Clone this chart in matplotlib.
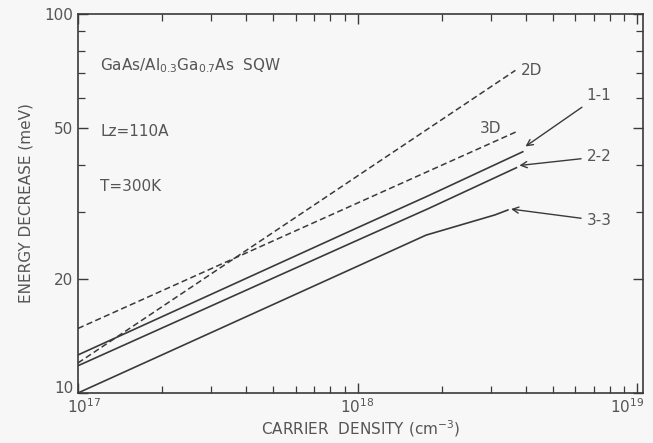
import numpy as np
import matplotlib
matplotlib.use("Agg")
from matplotlib import pyplot as plt
from matplotlib import transforms
from matplotlib.ticker import LogLocator, NullFormatter, FixedLocator, FixedFormatter

# carrier density (cm^-3) and energy decrease (meV) for each curve
n_2d = [1.0e17, 3.67e18]
e_2d = [12.0, 71.0]
n_3d = [1.0e17, 3.7e18]
e_3d = [14.8, 48.9]
n_11 = [1.0e17, 1.0e18, 1.8e18, 3.9e18]
e_11 = [12.6, 27.3, 33.2, 43.3]
n_22 = [1.0e17, 1.0e18, 1.8e18, 3.7e18]
e_22 = [11.8, 25.3, 30.7, 39.3]
n_33 = [1.0e17, 1.0e18, 1.76e18, 3.1e18, 3.45e18]
e_33 = [10.0, 21.6, 26.1, 29.5, 30.4]

ink = "#3a3a3a"
txt = "#555555"
plt.rcParams["font.family"] = ["DejaVu Sans"]
plt.rcParams["mathtext.fontset"] = "dejavusans"

fig = plt.figure(figsize=(6.53, 4.43), dpi=100, facecolor="#f7f7f7")
ax = fig.add_axes([0.1194, 0.1129, 0.8653, 0.8555])
ax.set_facecolor("#f7f7f7")

ax.plot(n_2d, e_2d, color=ink, lw=1.1, ls=(0, (4, 2.2)))
ax.plot(n_3d, e_3d, color=ink, lw=1.1, ls=(0, (4, 2.2)))
ax.plot(n_11, e_11, color=ink, lw=1.2)
ax.plot(n_22, e_22, color=ink, lw=1.2)
ax.plot(n_33, e_33, color=ink, lw=1.2)

ax.set_xscale("log")
ax.set_yscale("log")
ax.set_xlim(1e17, 1.05e19)
ax.set_ylim(10, 100)

ax.xaxis.set_major_locator(FixedLocator([1e17, 1e18, 1e19]))
ax.xaxis.set_major_formatter(FixedFormatter([r"$10^{17}$", r"$10^{18}$", r"$10^{19}$"]))
ax.xaxis.set_minor_locator(LogLocator(base=10, subs=np.arange(2, 10)))
ax.xaxis.set_minor_formatter(NullFormatter())
ax.yaxis.set_major_locator(FixedLocator([10, 20, 50, 100]))
ax.yaxis.set_major_formatter(FixedFormatter(["10", "20", "50", "100"]))
ax.yaxis.set_minor_locator(FixedLocator([30, 40, 60, 70, 80, 90]))
ax.yaxis.set_minor_formatter(NullFormatter())

ax.tick_params(which="both", direction="in", top=True, right=True, color=ink,
               labelcolor=txt, labelsize=11)
ax.tick_params(which="major", length=7, width=1)
ax.tick_params(which="minor", length=5, width=0.9)
ax.tick_params(axis="x", pad=3)
for s in ax.spines.values():
    s.set_color(ink)
    s.set_linewidth(1.2)

# nudge the corner labels so they don't collide
fig.canvas.draw()
xl = ax.get_xticklabels()
yl = ax.get_yticklabels()
xl[0].set_transform(xl[0].get_transform() + transforms.ScaledTranslation(0.06, 0, fig.dpi_scale_trans))
xl[-1].set_transform(xl[-1].get_transform() + transforms.ScaledTranslation(-0.1, 0, fig.dpi_scale_trans))
yl[0].set_transform(yl[0].get_transform() + transforms.ScaledTranslation(0, 0.06, fig.dpi_scale_trans))

ax.set_xlabel(r"CARRIER  DENSITY (cm$^{-3}$)", fontsize=11, color=txt, labelpad=2)
ax.set_ylabel("ENERGY DECREASE (meV)", fontsize=11, color=txt, labelpad=8)

ax.text(1.2e17, 73, r"GaAs/Al$_{0.3}$Ga$_{0.7}$As  SQW", fontsize=11, color=txt, va="center")
ax.text(1.2e17, 49, "Lz=110A", fontsize=11, color=txt, va="center")
ax.text(1.2e17, 35, "T=300K", fontsize=11, color=txt, va="center")

ax.text(3.85e18, 71, "2D", fontsize=11, color=txt, va="center")
ax.text(3.0e18, 50, "3D", fontsize=11, color=txt, va="center", ha="center")

arrow = dict(arrowstyle="->", color=ink, lw=1.0, shrinkA=2, shrinkB=1)
ax.annotate("1-1", xy=(3.95e18, 44.5), xytext=(6.6e18, 61), fontsize=11, color=txt,
            va="center", arrowprops=arrow)
ax.annotate("2-2", xy=(3.75e18, 39.8), xytext=(6.6e18, 42), fontsize=11, color=txt,
            va="center", arrowprops=arrow)
ax.annotate("3-3", xy=(3.5e18, 30.6), xytext=(6.6e18, 28.5), fontsize=11, color=txt,
            va="center", arrowprops=arrow)

fig.savefig("out.png", dpi=100, facecolor=fig.get_facecolor())
